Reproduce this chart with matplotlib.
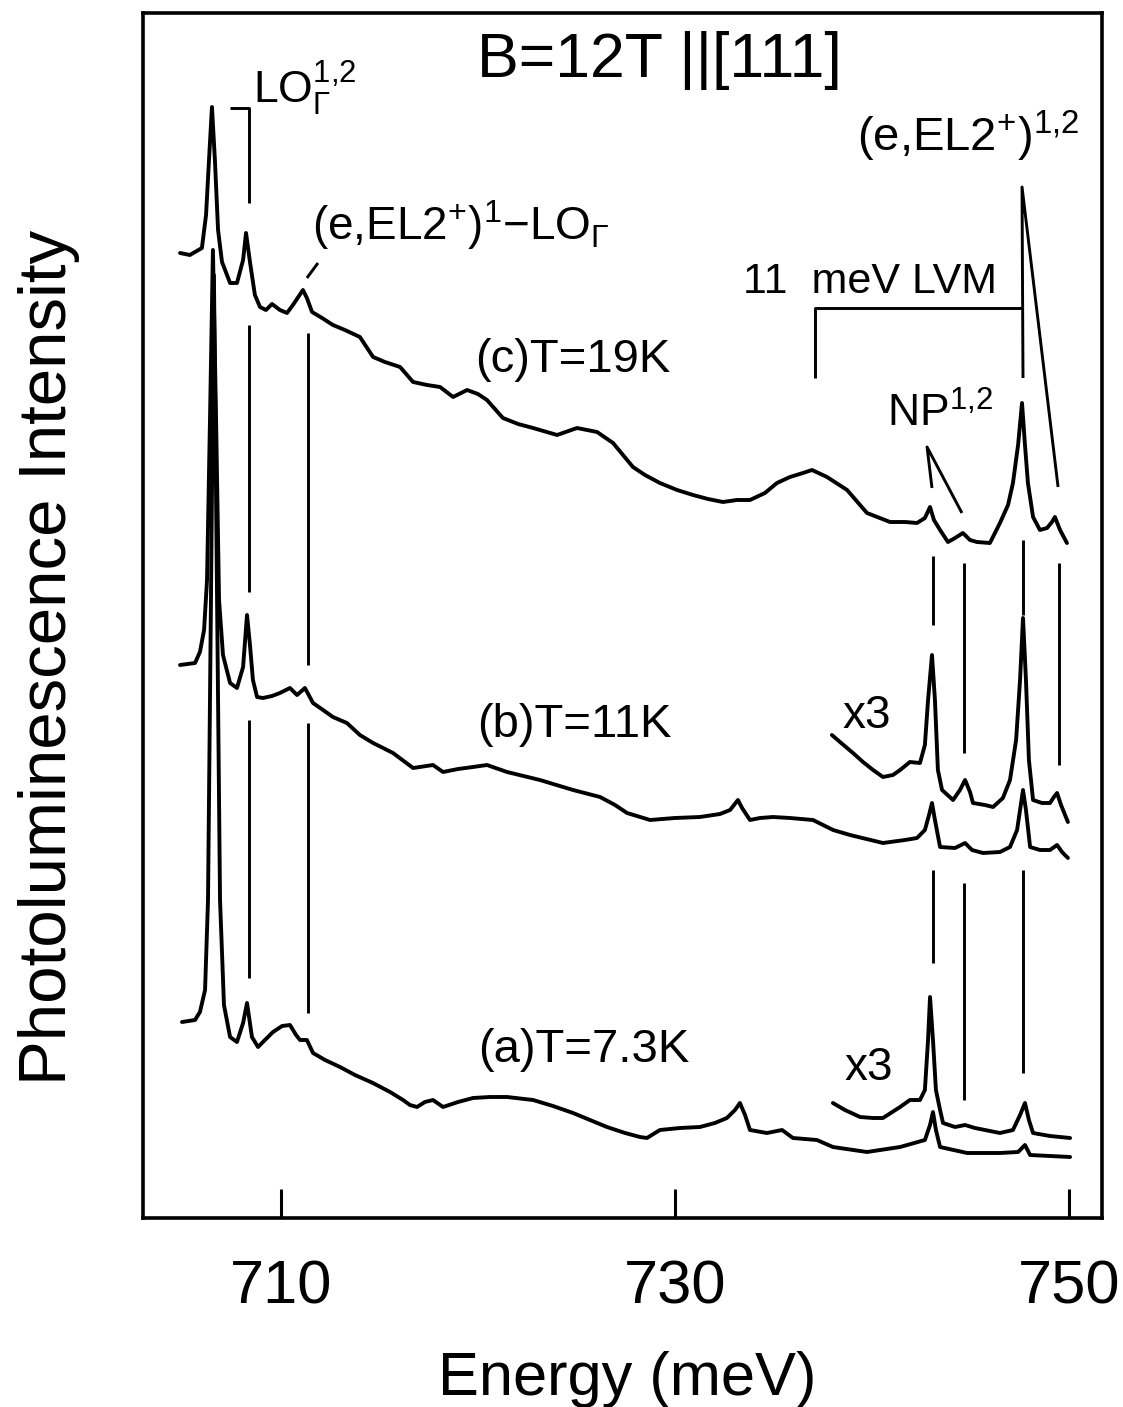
import matplotlib
matplotlib.use('Agg')
import matplotlib.pyplot as plt
from matplotlib import font_manager

# PL spectra at B=12T || [111], energy in meV, intensity in arbitrary units
# (c) T = 19 K
energy_c = [704.85, 705.35, 705.96, 706.17, 706.32, 706.47, 706.62, 706.78, 706.98, 707.39,
            707.74, 708.05, 708.20, 708.40, 708.65, 708.91, 709.21, 709.52, 709.92, 710.28,
            710.58, 711.09, 711.29, 711.55, 712.06, 712.61, 713.22, 713.98, 714.65, 715.25,
            716.02, 716.68, 717.39, 718.05, 718.71, 719.42, 719.97, 720.43, 721.24, 722.01,
            722.77, 723.99, 725.00, 726.02, 726.83, 727.84, 728.45, 729.21, 730.08, 730.89,
            731.65, 732.41, 733.12, 733.78, 734.54, 735.15, 735.81, 736.47, 736.93, 737.69,
            738.71, 739.72, 740.89, 741.65, 742.26, 742.66, 742.92, 743.12, 743.43, 743.83,
            744.19, 744.59, 744.95, 745.30, 745.96, 746.47, 746.88, 747.13, 747.39, 747.59,
            747.74, 747.89, 748.15, 748.50, 748.86, 749.11, 749.26, 749.52, 749.87]
intensity_c = [965, 963, 970, 1003, 1058, 1111, 1058, 988, 956, 935,
               935, 958, 985, 956, 923, 911, 908, 914, 908, 905,
               913, 928, 920, 906, 900, 893, 888, 881, 861, 856,
               851, 836, 833, 831, 821, 828, 824, 818, 800, 794,
               790, 783, 790, 786, 775, 751, 743, 735, 728, 723,
               719, 716, 718, 718, 725, 735, 741, 745, 748, 741,
               728, 705, 696, 696, 695, 700, 711, 698, 688, 676,
               680, 685, 678, 676, 675, 695, 713, 735, 773, 815,
               773, 735, 701, 688, 690, 696, 701, 688, 675]

# (b) T = 11 K
energy_b = [704.85, 705.61, 705.86, 706.07, 706.22, 706.37, 706.52, 706.68, 706.83, 707.03,
            707.39, 707.74, 708.05, 708.25, 708.40, 708.55, 708.76, 709.06, 709.52, 709.92,
            710.43, 710.79, 711.19, 711.60, 712.11, 712.61, 713.32, 713.98, 714.65, 715.66,
            716.68, 717.69, 718.20, 718.96, 719.72, 720.43, 721.45, 723.12, 724.80, 726.17,
            726.93, 727.54, 728.71, 729.97, 731.24, 732.26, 732.77, 733.17, 733.38, 733.78,
            734.29, 734.95, 735.81, 736.98, 738.00, 738.86, 740.53, 741.65, 742.26, 742.66,
            742.87, 743.02, 743.17, 743.43, 744.19, 744.70, 745.05, 745.61, 746.47, 746.98,
            747.34, 747.49, 747.64, 747.79, 748.00, 748.50, 749.01, 749.37, 749.62, 749.92]
intensity_b = [553, 555, 566, 588, 638, 798, 968, 798, 618, 563,
               535, 530, 551, 603, 573, 538, 521, 520, 522, 525,
               530, 523, 530, 515, 508, 501, 495, 483, 475, 465,
               450, 453, 446, 449, 451, 453, 446, 438, 428, 421,
               413, 405, 398, 400, 401, 404, 408, 418, 410, 398,
               400, 401, 400, 398, 388, 383, 375, 378, 380, 388,
               403, 415, 398, 371, 370, 375, 368, 365, 366, 371,
               388, 408, 428, 408, 371, 368, 368, 373, 366, 360]

# (b) x3 part
energy_b3 = [737.94, 738.35, 739.01, 739.52, 740.03, 740.53, 741.04, 741.40, 741.90, 742.41,
             742.66, 742.82, 743.02, 743.17, 743.32, 743.53, 744.09, 744.44, 744.70, 744.95,
             745.10, 745.71, 746.12, 746.62, 746.98, 747.29, 747.49, 747.64, 747.79, 747.94,
             748.15, 748.60, 749.01, 749.21, 749.37, 749.57, 749.92]
intensity_b3 = [483, 476, 465, 456, 448, 441, 443, 448, 456, 455,
                473, 518, 563, 518, 448, 428, 418, 428, 438, 426,
                415, 413, 411, 420, 438, 478, 538, 600, 538, 458,
                418, 415, 415, 421, 425, 413, 396]

# (a) T = 7.3 K
energy_a = [704.95, 705.61, 705.86, 706.12, 706.27, 706.42, 706.57, 706.73, 706.88, 707.08,
            707.39, 707.74, 708.05, 708.25, 708.50, 708.81, 709.16, 709.57, 710.03, 710.43,
            710.74, 710.94, 711.29, 711.60, 712.21, 712.97, 713.73, 714.64, 715.51, 716.17,
            716.52, 716.88, 717.28, 717.69, 718.20, 718.96, 719.72, 720.58, 721.45, 722.77,
            723.78, 724.80, 725.66, 726.52, 727.44, 728.20, 728.55, 729.21, 730.23, 731.24,
            732.00, 732.61, 733.02, 733.27, 733.53, 733.78, 734.64, 735.41, 735.96, 737.18,
            737.99, 739.72, 741.40, 742.66, 742.92, 743.07, 743.22, 743.43, 744.80, 746.47,
            747.39, 747.74, 748.00, 749.01, 750.03]
intensity_a = [196, 198, 206, 228, 318, 618, 943, 618, 318, 213,
               181, 176, 195, 215, 181, 171, 178, 186, 192, 193,
               183, 178, 178, 165, 158, 151, 143, 135, 126, 118,
               113, 111, 116, 118, 111, 116, 120, 121, 121, 118,
               112, 105, 98, 91, 85, 81, 80, 88, 90, 91,
               95, 100, 108, 115, 103, 88, 85, 88, 80, 78,
               71, 66, 71, 78, 93, 106, 88, 71, 65, 65,
               66, 73, 63, 62, 61]

# (a) x3 part
energy_a3 = [737.99, 738.60, 739.37, 740.03, 740.53, 741.40, 741.90, 742.41, 742.66, 742.82,
             742.92, 743.07, 743.22, 743.43, 743.58, 744.19, 744.70, 745.20, 746.47, 747.13,
             747.49, 747.74, 747.94, 748.15, 749.01, 750.03]
intensity_a3 = [115, 108, 101, 100, 100, 111, 118, 118, 128, 178,
                221, 178, 128, 108, 95, 91, 93, 90, 85, 88,
                103, 115, 98, 85, 82, 80]

# line positions (meV)
lo_line = 708.35
el2_lo_line = 711.35
np_lines = [743.05, 744.65]
el2_lines = [747.64, 749.45]
lvm_start = 737.08

xticks = [710, 730, 750]

names = {f.name for f in font_manager.fontManager.ttflist}
if 'Liberation Sans Narrow' in names:
    narrow, big = 'Liberation Sans Narrow', 1.0
else:
    narrow, big = 'Liberation Sans', 0.85
plt.rcParams['font.family'] = [narrow, 'DejaVu Sans']
plt.rcParams['mathtext.fontset'] = 'custom'
plt.rcParams['mathtext.rm'] = 'Liberation Sans'
plt.rcParams['mathtext.it'] = 'Liberation Sans:italic'
plt.rcParams['mathtext.bf'] = 'Liberation Sans:bold'

fig = plt.figure(figsize=(11.23, 14.07), dpi=100)
ax = fig.add_axes([143 / 1123, 1 - 1218 / 1407, 959 / 1123, 1205 / 1407])

lw = 2.8
for xs, ys in [(energy_c, intensity_c), (energy_b, intensity_b), (energy_b3, intensity_b3),
               (energy_a, intensity_a), (energy_a3, intensity_a3)]:
    ax.plot(xs, ys, color='black', lw=lw, solid_joinstyle='round', solid_capstyle='round')

# marker lines
mk = dict(color='black', lw=2.1, solid_capstyle='butt')


def segments(x, ranges):
    for lo, hi in ranges:
        ax.plot([x, x], [lo, hi], **mk)


ax.plot([707.39, lo_line, lo_line], [1110, 1110, 1015], **mk)
segments(lo_line, [(626, 893), (240, 498)])
ax.plot([711.29, 711.85], [940, 955], **mk)
segments(el2_lo_line, [(553, 885), (205, 495)])
segments(np_lines[0], [(593, 662), (255, 348)])
segments(np_lines[1], [(465, 655), (118, 335)])
segments(el2_lines[0], [(603, 678), (145, 348)])
segments(el2_lines[1], [(453, 655)])
ax.plot([743.02, 742.77, 744.54], [730, 771, 705], **mk)
ax.plot([el2_lines[0], 747.59, 749.42], [840, 1031, 731], **mk)
ax.plot([lvm_start, lvm_start, el2_lines[0]], [840, 910, 910], **mk)

# labels
lab = dict(family='Liberation Sans', ha='left', va='baseline', color='black')
ax.text(719.92, 1141, 'B=12T ||[111]', family=narrow, fontsize=53 * big, ha='left', va='baseline')
ax.text(708.55, 1115, r'LO$_{\Gamma}^{1{,}2}$', fontsize=32, **lab)
ax.text(711.55, 978, r'(e,EL2$^{+}$)$^{1}$$-$LO$_{\Gamma}$', fontsize=33, **lab)
ax.text(739.21, 1067, r'(e,EL2$^{+}$)$^{1{,}2}$', fontsize=34, **lab)
ax.text(733.43, 925, '11  meV LVM', fontsize=31, **lab)
ax.text(740.74, 791, r'NP$^{1{,}2}$', fontsize=32, **lab)
ax.text(719.83, 846, '(c)T=19K', fontsize=34, **lab)
ax.text(719.92, 481, '(b)T=11K', fontsize=34, **lab)
ax.text(719.97, 156, '(a)T=7.3K', fontsize=34, **lab)
ax.text(738.50, 490, 'x3', fontsize=33, **lab)
ax.text(738.60, 138, 'x3', fontsize=33, **lab)

ax.set_xlim(702.97, 751.65)
ax.set_ylim(0, 1205)
ax.set_xticks(xticks)
ax.set_xticklabels([str(t) for t in xticks])
ax.set_yticks([])
ax.tick_params(axis='x', direction='in', length=21, width=2.2, labelsize=52 * big, pad=30)
for s in ax.spines.values():
    s.set_linewidth(2.6)

ax.set_xlabel('Energy (meV)', fontsize=52 * big, va='baseline')
ax.xaxis.set_label_coords(0.505, -0.147)
ax.set_ylabel('Photoluminescence Intensity', fontsize=57 * big)
ax.yaxis.set_label_coords(-0.0657, 0.465)

fig.savefig('out.png', dpi=100)
